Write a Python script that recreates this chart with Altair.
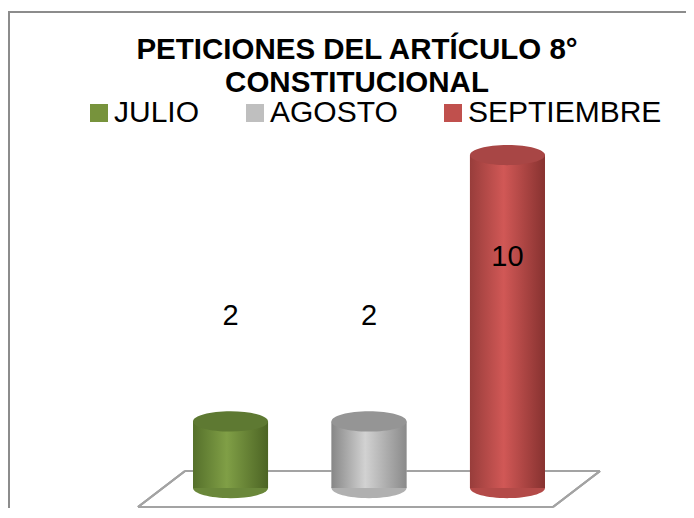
import altair as alt
import pandas as pd

# ---- data ----
months = ["JULIO", "AGOSTO", "SEPTIEMBRE"]
values = [2, 2, 10]

legend_colors = ["#77933C", "#BFBFBF", "#C0504D"]
body_stops = {
    "JULIO": ["#55702b", "#809f46", "#4c6424"],
    "AGOSTO": ["#878787", "#d2d2d2", "#8a8a8a"],
    "SEPTIEMBRE": ["#983d3b", "#d15856", "#873230"],
}
top_colors = {"JULIO": "#5e7932", "AGOSTO": "#959595", "SEPTIEMBRE": "#a84645"}
base_colors = {"JULIO": "#6a873a", "AGOSTO": "#b0b0b0", "SEPTIEMBRE": "#b34a48"}

df = pd.DataFrame({"mes": months, "valor": values, "cero": [0] * len(months)})

FONT = "Liberation Sans"
ELLIPSE = "M -1 0 A 1 0.27 0 1 1 1 0 A 1 0.27 0 1 1 -1 0 Z"
BAR_W = 75

xscale = alt.Scale(domain=months, range=[185, 537], paddingInner=0.458, paddingOuter=0)
yscale = alt.Scale(domain=[0, 10], range=[480, 147], nice=False, zero=True)

X = alt.X("mes:N", scale=xscale, axis=None)
Y = alt.Y("valor:Q", scale=yscale, axis=None)
Y0 = alt.Y("cero:Q", scale=yscale, axis=None)

base = alt.Chart(df)

# border
border = base.mark_rect(fillOpacity=0, stroke="#8c8c8c", strokeWidth=2).encode(
    x=alt.value(1), x2=alt.value(760), y=alt.value(4), y2=alt.value(700)
)

# floor
floor_color = "#a3a3a3"
def seg(x1, y1, x2, y2):
    return base.mark_rule(color=floor_color, strokeWidth=2).encode(
        x=alt.value(x1), y=alt.value(y1), x2=alt.value(x2), y2=alt.value(y2)
    )
floor = [seg(177, 463, 592, 463), seg(130, 499, 545, 499), seg(130, 499, 177, 463), seg(545, 499, 592, 463)]

# flat bars carrying the legend (band width = bar width)
legend_bars = base.mark_bar().encode(
    x=X,
    y=Y,
    color=alt.Color(
        "mes:N",
        scale=alt.Scale(domain=months, range=legend_colors),
        legend=alt.Legend(
            title=None,
            orient="none",
            legendX=76,
            legendY=90,
            direction="horizontal",
            symbolType="square",
            symbolSize=324,
            symbolStrokeWidth=0,
            labelFont=FONT,
            labelFontSize=30,
            labelColor="#000000",
            labelOffset=0,
            labelLimit=0,
            columnPadding=40,
            padding=0,
        ),
    ),
)

layers = [border] + floor + [legend_bars]
for m in months:
    s = body_stops[m]
    grad = alt.LinearGradient(
        gradient="linear",
        stops=[
            alt.GradientStop(color=s[0], offset=0),
            alt.GradientStop(color=s[1], offset=0.45),
            alt.GradientStop(color=s[2], offset=1),
        ],
        x1=0, x2=1, y1=0, y2=0,
    )
    sub = base.transform_filter(alt.datum.mes == m)
    bottom = sub.mark_point(shape=ELLIPSE, size=BAR_W * BAR_W, filled=True, opacity=1,
                            color=base_colors[m], strokeWidth=0).encode(x=X, y=Y0)
    body = sub.mark_bar(size=BAR_W, color=grad).encode(x=X, y=Y)
    top = sub.mark_point(shape=ELLIPSE, size=BAR_W * BAR_W, filled=True, opacity=1,
                         color=top_colors[m], strokeWidth=0).encode(x=X, y=Y)
    layers += [bottom, body, top]

labels_low = base.transform_filter(alt.datum.valor < 5).mark_text(
    font=FONT, fontSize=29, color="#000000", dy=-105, baseline="middle"
).encode(x=X, y=Y, text="valor:Q")
labels_high = base.transform_filter(alt.datum.valor >= 5).mark_text(
    font=FONT, fontSize=29, color="#000000", dy=102, baseline="middle"
).encode(x=X, y=Y, text="valor:Q")
layers += [labels_low, labels_high]

chart = alt.layer(*layers).properties(
    width=678,
    height=500,
    padding=0,
    autosize=alt.AutoSizeParams(type="none"),
    title=alt.TitleParams(
        text=["PETICIONES DEL ARTÍCULO 8°", "CONSTITUCIONAL"],
        font=FONT,
        fontSize=29.5,
        fontWeight="bold",
        color="#000000",
        anchor="middle",
        lineHeight=33,
        offset=0,
        dx=10,
        dy=90,
    ),
).configure_view(strokeWidth=0)

chart.save("out.html", embed_options={"renderer": "svg", "actions": False})
